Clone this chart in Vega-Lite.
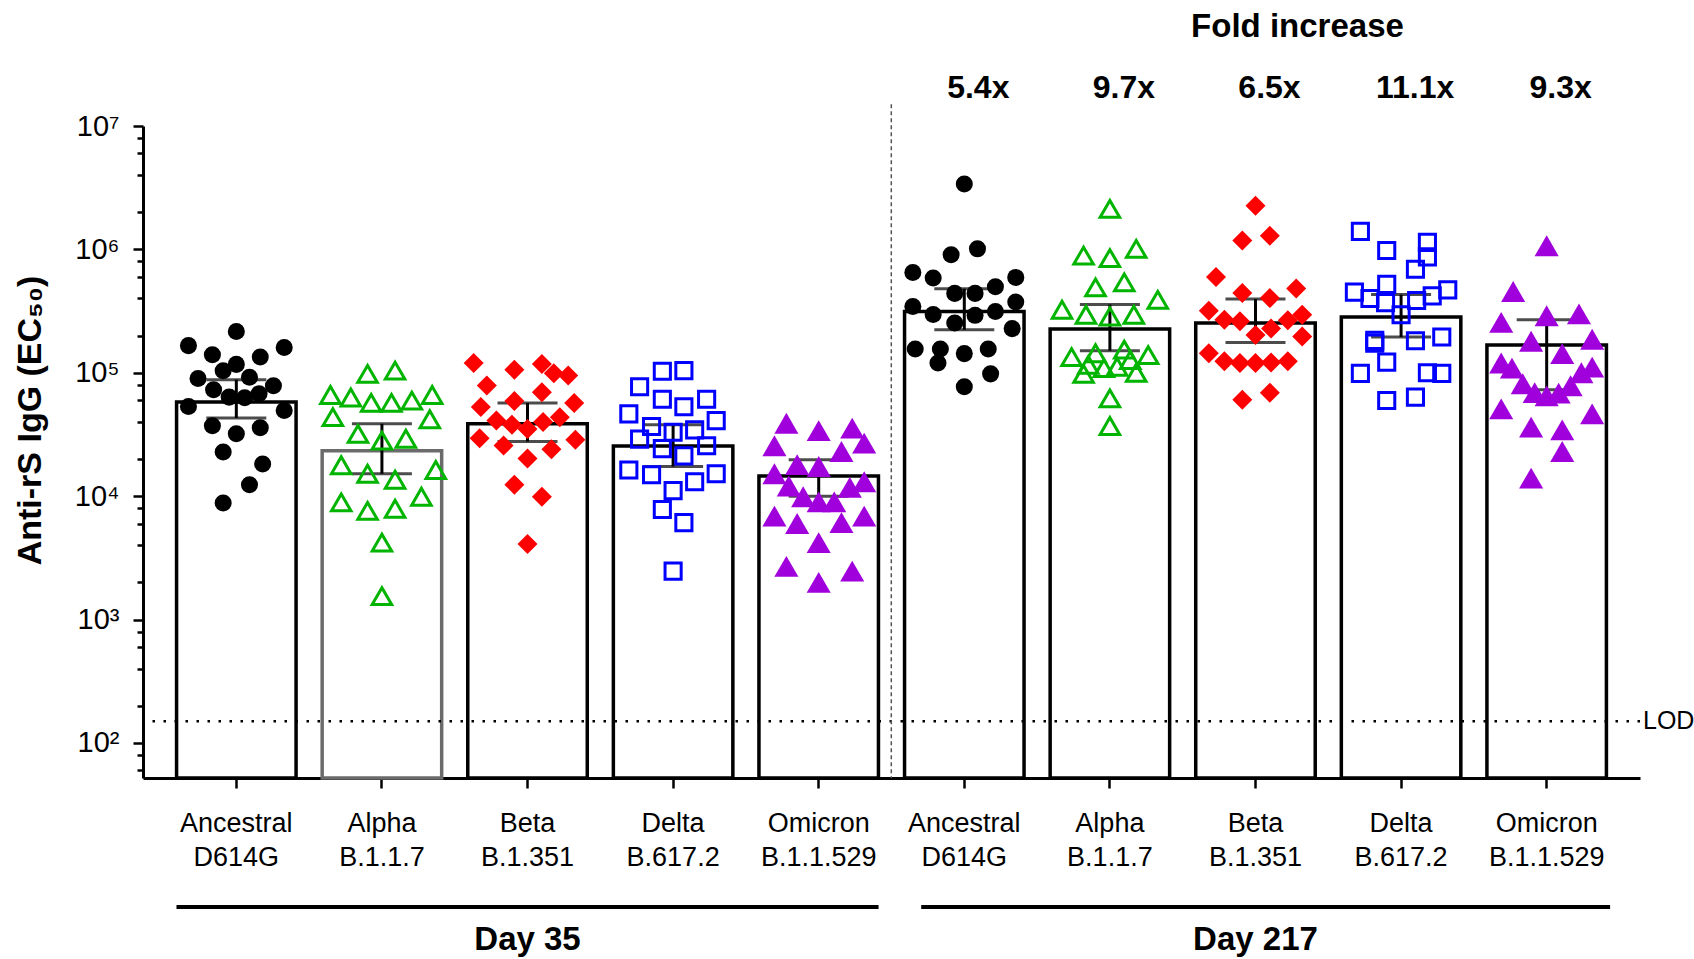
{
  "$schema": "https://vega.github.io/schema/vega-lite/v6.json",
  "width": 1497,
  "height": 652,
  "autosize": {"type": "none"},
  "padding": {"left": 143, "top": 126, "right": 54, "bottom": 181},
  "background": "white",
  "config": {"view": {"stroke": null}, "font": "Liberation Sans"},
  "datasets": {
    "summary": [
      {"grp": "D35 Ancestral D614G", "mean": 58000, "lo": 43000, "hi": 88000},
      {"grp": "D35 Alpha B.1.1.7", "mean": 23300, "lo": 15200, "hi": 38600},
      {"grp": "D35 Beta B.1.351", "mean": 38600, "lo": 27700, "hi": 57000},
      {"grp": "D35 Delta B.617.2", "mean": 25500, "lo": 17400, "hi": 38000},
      {"grp": "D35 Omicron B.1.1.529", "mean": 14600, "lo": 10000, "hi": 19700},
      {"grp": "D217 Ancestral D614G", "mean": 314000, "lo": 223000, "hi": 480000},
      {"grp": "D217 Alpha B.1.1.7", "mean": 226000, "lo": 151000, "hi": 358000},
      {"grp": "D217 Beta B.1.351", "mean": 253000, "lo": 176000, "hi": 396000},
      {"grp": "D217 Delta B.617.2", "mean": 283000, "lo": 195000, "hi": 430000},
      {"grp": "D217 Omicron B.1.1.529", "mean": 168000, "lo": 73000, "hi": 269000}
    ],
    "fold": [
      {"grp": "D217 Ancestral D614G", "fold": "5.4x"},
      {"grp": "D217 Alpha B.1.1.7", "fold": "9.7x"},
      {"grp": "D217 Beta B.1.351", "fold": "6.5x"},
      {"grp": "D217 Delta B.617.2", "fold": "11.1x"},
      {"grp": "D217 Omicron B.1.1.529", "fold": "9.3x"}
    ],
    "heading": [{"grp": "D217 Beta B.1.351", "text": "Fold increase"}],
    "days": [
      {"day": "Day 35", "first": "D35 Ancestral D614G", "last": "D35 Omicron B.1.1.529", "mid": "D35 Beta B.1.351"},
      {"day": "Day 217", "first": "D217 Ancestral D614G", "last": "D217 Omicron B.1.1.529", "mid": "D217 Beta B.1.351"}
    ],
    "lod": [{"lod": 150, "label": "LOD"}],
    "divider": [{"grp": "D217 Ancestral D614G"}],
    "points": [
      {"grp": "D35 Ancestral D614G", "variant": "Ancestral", "titer": 216000, "slot": 0},
      {"grp": "D35 Ancestral D614G", "variant": "Ancestral", "titer": 166000, "slot": -4},
      {"grp": "D35 Ancestral D614G", "variant": "Ancestral", "titer": 160000, "slot": 4},
      {"grp": "D35 Ancestral D614G", "variant": "Ancestral", "titer": 140000, "slot": -2},
      {"grp": "D35 Ancestral D614G", "variant": "Ancestral", "titer": 134000, "slot": 2},
      {"grp": "D35 Ancestral D614G", "variant": "Ancestral", "titer": 117000, "slot": 0},
      {"grp": "D35 Ancestral D614G", "variant": "Ancestral", "titer": 104000, "slot": -1.1},
      {"grp": "D35 Ancestral D614G", "variant": "Ancestral", "titer": 90000, "slot": -3.2},
      {"grp": "D35 Ancestral D614G", "variant": "Ancestral", "titer": 92000, "slot": 1.1},
      {"grp": "D35 Ancestral D614G", "variant": "Ancestral", "titer": 78500, "slot": 3.1},
      {"grp": "D35 Ancestral D614G", "variant": "Ancestral", "titer": 73000, "slot": -1.9},
      {"grp": "D35 Ancestral D614G", "variant": "Ancestral", "titer": 63500, "slot": -0.6},
      {"grp": "D35 Ancestral D614G", "variant": "Ancestral", "titer": 62700, "slot": 0.7},
      {"grp": "D35 Ancestral D614G", "variant": "Ancestral", "titer": 67600, "slot": 1.9},
      {"grp": "D35 Ancestral D614G", "variant": "Ancestral", "titer": 53300, "slot": -4},
      {"grp": "D35 Ancestral D614G", "variant": "Ancestral", "titer": 49500, "slot": 4},
      {"grp": "D35 Ancestral D614G", "variant": "Ancestral", "titer": 37200, "slot": -2},
      {"grp": "D35 Ancestral D614G", "variant": "Ancestral", "titer": 32000, "slot": 0},
      {"grp": "D35 Ancestral D614G", "variant": "Ancestral", "titer": 35800, "slot": 2},
      {"grp": "D35 Ancestral D614G", "variant": "Ancestral", "titer": 22800, "slot": -1.1},
      {"grp": "D35 Ancestral D614G", "variant": "Ancestral", "titer": 18200, "slot": 2.2},
      {"grp": "D35 Ancestral D614G", "variant": "Ancestral", "titer": 12400, "slot": 1.1},
      {"grp": "D35 Ancestral D614G", "variant": "Ancestral", "titer": 8800, "slot": -1.1},

      {"grp": "D35 Alpha B.1.1.7", "variant": "Alpha", "titer": 98000, "slot": -1.2},
      {"grp": "D35 Alpha B.1.1.7", "variant": "Alpha", "titer": 104000, "slot": 1.1},
      {"grp": "D35 Alpha B.1.1.7", "variant": "Alpha", "titer": 66000, "slot": -4.3},
      {"grp": "D35 Alpha B.1.1.7", "variant": "Alpha", "titer": 63000, "slot": -2.6},
      {"grp": "D35 Alpha B.1.1.7", "variant": "Alpha", "titer": 57000, "slot": -0.9},
      {"grp": "D35 Alpha B.1.1.7", "variant": "Alpha", "titer": 57000, "slot": 0.8},
      {"grp": "D35 Alpha B.1.1.7", "variant": "Alpha", "titer": 59500, "slot": 2.5},
      {"grp": "D35 Alpha B.1.1.7", "variant": "Alpha", "titer": 66000, "slot": 4.2},
      {"grp": "D35 Alpha B.1.1.7", "variant": "Alpha", "titer": 43700, "slot": -4.1},
      {"grp": "D35 Alpha B.1.1.7", "variant": "Alpha", "titer": 42000, "slot": 4},
      {"grp": "D35 Alpha B.1.1.7", "variant": "Alpha", "titer": 32000, "slot": -2},
      {"grp": "D35 Alpha B.1.1.7", "variant": "Alpha", "titer": 28200, "slot": 0},
      {"grp": "D35 Alpha B.1.1.7", "variant": "Alpha", "titer": 29200, "slot": 2},
      {"grp": "D35 Alpha B.1.1.7", "variant": "Alpha", "titer": 17800, "slot": -3.4},
      {"grp": "D35 Alpha B.1.1.7", "variant": "Alpha", "titer": 16300, "slot": 4.5},
      {"grp": "D35 Alpha B.1.1.7", "variant": "Alpha", "titer": 15200, "slot": -1.2},
      {"grp": "D35 Alpha B.1.1.7", "variant": "Alpha", "titer": 13600, "slot": 1.1},
      {"grp": "D35 Alpha B.1.1.7", "variant": "Alpha", "titer": 8900, "slot": -3.4},
      {"grp": "D35 Alpha B.1.1.7", "variant": "Alpha", "titer": 7600, "slot": -1.2},
      {"grp": "D35 Alpha B.1.1.7", "variant": "Alpha", "titer": 7900, "slot": 1.1},
      {"grp": "D35 Alpha B.1.1.7", "variant": "Alpha", "titer": 9900, "slot": 3.3},
      {"grp": "D35 Alpha B.1.1.7", "variant": "Alpha", "titer": 4200, "slot": 0},
      {"grp": "D35 Alpha B.1.1.7", "variant": "Alpha", "titer": 1550, "slot": 0},

      {"grp": "D35 Beta B.1.351", "variant": "Beta", "titer": 120000, "slot": -4.5},
      {"grp": "D35 Beta B.1.351", "variant": "Beta", "titer": 106000, "slot": -1.1},
      {"grp": "D35 Beta B.1.351", "variant": "Beta", "titer": 118000, "slot": 1.2},
      {"grp": "D35 Beta B.1.351", "variant": "Beta", "titer": 99000, "slot": 2.2},
      {"grp": "D35 Beta B.1.351", "variant": "Beta", "titer": 95000, "slot": 3.4},
      {"grp": "D35 Beta B.1.351", "variant": "Beta", "titer": 79000, "slot": -3.4},
      {"grp": "D35 Beta B.1.351", "variant": "Beta", "titer": 69700, "slot": 1.2},
      {"grp": "D35 Beta B.1.351", "variant": "Beta", "titer": 59000, "slot": -1.1},
      {"grp": "D35 Beta B.1.351", "variant": "Beta", "titer": 52700, "slot": -3.9},
      {"grp": "D35 Beta B.1.351", "variant": "Beta", "titer": 57000, "slot": 3.9},
      {"grp": "D35 Beta B.1.351", "variant": "Beta", "titer": 41000, "slot": -2.6},
      {"grp": "D35 Beta B.1.351", "variant": "Beta", "titer": 38000, "slot": -1.3},
      {"grp": "D35 Beta B.1.351", "variant": "Beta", "titer": 35000, "slot": 0},
      {"grp": "D35 Beta B.1.351", "variant": "Beta", "titer": 40000, "slot": 1.3},
      {"grp": "D35 Beta B.1.351", "variant": "Beta", "titer": 43700, "slot": 2.7},
      {"grp": "D35 Beta B.1.351", "variant": "Beta", "titer": 29500, "slot": -4},
      {"grp": "D35 Beta B.1.351", "variant": "Beta", "titer": 28600, "slot": 4},
      {"grp": "D35 Beta B.1.351", "variant": "Beta", "titer": 25700, "slot": -2},
      {"grp": "D35 Beta B.1.351", "variant": "Beta", "titer": 24000, "slot": 2},
      {"grp": "D35 Beta B.1.351", "variant": "Beta", "titer": 20200, "slot": 0},
      {"grp": "D35 Beta B.1.351", "variant": "Beta", "titer": 12400, "slot": -1.1},
      {"grp": "D35 Beta B.1.351", "variant": "Beta", "titer": 9900, "slot": 1.2},
      {"grp": "D35 Beta B.1.351", "variant": "Beta", "titer": 4100, "slot": 0},

      {"grp": "D35 Delta B.617.2", "variant": "Delta", "titer": 103000, "slot": -0.9},
      {"grp": "D35 Delta B.617.2", "variant": "Delta", "titer": 104000, "slot": 0.9},
      {"grp": "D35 Delta B.617.2", "variant": "Delta", "titer": 77000, "slot": -2.8},
      {"grp": "D35 Delta B.617.2", "variant": "Delta", "titer": 61000, "slot": -0.9},
      {"grp": "D35 Delta B.617.2", "variant": "Delta", "titer": 53000, "slot": 0.9},
      {"grp": "D35 Delta B.617.2", "variant": "Delta", "titer": 61000, "slot": 2.8},
      {"grp": "D35 Delta B.617.2", "variant": "Delta", "titer": 46500, "slot": -3.7},
      {"grp": "D35 Delta B.617.2", "variant": "Delta", "titer": 41000, "slot": 3.6},
      {"grp": "D35 Delta B.617.2", "variant": "Delta", "titer": 36700, "slot": -1.8},
      {"grp": "D35 Delta B.617.2", "variant": "Delta", "titer": 33000, "slot": 0},
      {"grp": "D35 Delta B.617.2", "variant": "Delta", "titer": 34500, "slot": 1.8},
      {"grp": "D35 Delta B.617.2", "variant": "Delta", "titer": 29000, "slot": -2.8},
      {"grp": "D35 Delta B.617.2", "variant": "Delta", "titer": 24300, "slot": -0.9},
      {"grp": "D35 Delta B.617.2", "variant": "Delta", "titer": 25600, "slot": 2.8},
      {"grp": "D35 Delta B.617.2", "variant": "Delta", "titer": 21200, "slot": 0.9},
      {"grp": "D35 Delta B.617.2", "variant": "Delta", "titer": 16300, "slot": -3.7},
      {"grp": "D35 Delta B.617.2", "variant": "Delta", "titer": 14900, "slot": -1.8},
      {"grp": "D35 Delta B.617.2", "variant": "Delta", "titer": 15200, "slot": 3.6},
      {"grp": "D35 Delta B.617.2", "variant": "Delta", "titer": 13100, "slot": 1.8},
      {"grp": "D35 Delta B.617.2", "variant": "Delta", "titer": 11100, "slot": 0},
      {"grp": "D35 Delta B.617.2", "variant": "Delta", "titer": 7800, "slot": -0.9},
      {"grp": "D35 Delta B.617.2", "variant": "Delta", "titer": 6100, "slot": 0.9},
      {"grp": "D35 Delta B.617.2", "variant": "Delta", "titer": 2470, "slot": 0},

      {"grp": "D35 Omicron B.1.1.529", "variant": "Omicron", "titer": 39000, "slot": -2.7},
      {"grp": "D35 Omicron B.1.1.529", "variant": "Omicron", "titer": 34000, "slot": 0},
      {"grp": "D35 Omicron B.1.1.529", "variant": "Omicron", "titer": 35600, "slot": 2.8},
      {"grp": "D35 Omicron B.1.1.529", "variant": "Omicron", "titer": 25600, "slot": -3.7},
      {"grp": "D35 Omicron B.1.1.529", "variant": "Omicron", "titer": 26900, "slot": 3.8},
      {"grp": "D35 Omicron B.1.1.529", "variant": "Omicron", "titer": 23000, "slot": 1.9},
      {"grp": "D35 Omicron B.1.1.529", "variant": "Omicron", "titer": 18000, "slot": -1.8},
      {"grp": "D35 Omicron B.1.1.529", "variant": "Omicron", "titer": 17400, "slot": 0},
      {"grp": "D35 Omicron B.1.1.529", "variant": "Omicron", "titer": 15200, "slot": -3.7},
      {"grp": "D35 Omicron B.1.1.529", "variant": "Omicron", "titer": 12100, "slot": -2.5},
      {"grp": "D35 Omicron B.1.1.529", "variant": "Omicron", "titer": 11800, "slot": 2.6},
      {"grp": "D35 Omicron B.1.1.529", "variant": "Omicron", "titer": 13100, "slot": 3.8},
      {"grp": "D35 Omicron B.1.1.529", "variant": "Omicron", "titer": 9900, "slot": -1.3},
      {"grp": "D35 Omicron B.1.1.529", "variant": "Omicron", "titer": 9000, "slot": 0},
      {"grp": "D35 Omicron B.1.1.529", "variant": "Omicron", "titer": 9000, "slot": 1.3},
      {"grp": "D35 Omicron B.1.1.529", "variant": "Omicron", "titer": 6900, "slot": -3.7},
      {"grp": "D35 Omicron B.1.1.529", "variant": "Omicron", "titer": 6000, "slot": -1.8},
      {"grp": "D35 Omicron B.1.1.529", "variant": "Omicron", "titer": 6100, "slot": 1.9},
      {"grp": "D35 Omicron B.1.1.529", "variant": "Omicron", "titer": 6900, "slot": 3.8},
      {"grp": "D35 Omicron B.1.1.529", "variant": "Omicron", "titer": 4200, "slot": 0},
      {"grp": "D35 Omicron B.1.1.529", "variant": "Omicron", "titer": 2700, "slot": -2.7},
      {"grp": "D35 Omicron B.1.1.529", "variant": "Omicron", "titer": 2470, "slot": 2.8},
      {"grp": "D35 Omicron B.1.1.529", "variant": "Omicron", "titer": 2000, "slot": 0},

      {"grp": "D217 Ancestral D614G", "variant": "Ancestral", "titer": 3390000, "slot": 0},
      {"grp": "D217 Ancestral D614G", "variant": "Ancestral", "titer": 906000, "slot": -1.1},
      {"grp": "D217 Ancestral D614G", "variant": "Ancestral", "titer": 1010000, "slot": 1.1},
      {"grp": "D217 Ancestral D614G", "variant": "Ancestral", "titer": 650000, "slot": -4.3},
      {"grp": "D217 Ancestral D614G", "variant": "Ancestral", "titer": 586000, "slot": -2.6},
      {"grp": "D217 Ancestral D614G", "variant": "Ancestral", "titer": 593000, "slot": 4.3},
      {"grp": "D217 Ancestral D614G", "variant": "Ancestral", "titer": 498000, "slot": 2.6},
      {"grp": "D217 Ancestral D614G", "variant": "Ancestral", "titer": 440000, "slot": -0.8},
      {"grp": "D217 Ancestral D614G", "variant": "Ancestral", "titer": 440000, "slot": 0.9},
      {"grp": "D217 Ancestral D614G", "variant": "Ancestral", "titer": 345000, "slot": -4.3},
      {"grp": "D217 Ancestral D614G", "variant": "Ancestral", "titer": 374000, "slot": 4.3},
      {"grp": "D217 Ancestral D614G", "variant": "Ancestral", "titer": 297000, "slot": -2.6},
      {"grp": "D217 Ancestral D614G", "variant": "Ancestral", "titer": 292000, "slot": 0.9},
      {"grp": "D217 Ancestral D614G", "variant": "Ancestral", "titer": 314000, "slot": 2.6},
      {"grp": "D217 Ancestral D614G", "variant": "Ancestral", "titer": 253000, "slot": -0.8},
      {"grp": "D217 Ancestral D614G", "variant": "Ancestral", "titer": 228000, "slot": 4},
      {"grp": "D217 Ancestral D614G", "variant": "Ancestral", "titer": 156000, "slot": -4.1},
      {"grp": "D217 Ancestral D614G", "variant": "Ancestral", "titer": 156000, "slot": -2},
      {"grp": "D217 Ancestral D614G", "variant": "Ancestral", "titer": 143000, "slot": 0},
      {"grp": "D217 Ancestral D614G", "variant": "Ancestral", "titer": 156000, "slot": 2},
      {"grp": "D217 Ancestral D614G", "variant": "Ancestral", "titer": 120000, "slot": -2.2},
      {"grp": "D217 Ancestral D614G", "variant": "Ancestral", "titer": 98000, "slot": 2.2},
      {"grp": "D217 Ancestral D614G", "variant": "Ancestral", "titer": 77000, "slot": 0},

      {"grp": "D217 Alpha B.1.1.7", "variant": "Alpha", "titer": 2130000, "slot": 0},
      {"grp": "D217 Alpha B.1.1.7", "variant": "Alpha", "titer": 890000, "slot": -2.2},
      {"grp": "D217 Alpha B.1.1.7", "variant": "Alpha", "titer": 850000, "slot": 0},
      {"grp": "D217 Alpha B.1.1.7", "variant": "Alpha", "titer": 1010000, "slot": 2.2},
      {"grp": "D217 Alpha B.1.1.7", "variant": "Alpha", "titer": 492000, "slot": -1.2},
      {"grp": "D217 Alpha B.1.1.7", "variant": "Alpha", "titer": 540000, "slot": 1.2},
      {"grp": "D217 Alpha B.1.1.7", "variant": "Alpha", "titer": 324000, "slot": -4},
      {"grp": "D217 Alpha B.1.1.7", "variant": "Alpha", "titer": 390000, "slot": 4},
      {"grp": "D217 Alpha B.1.1.7", "variant": "Alpha", "titer": 295000, "slot": -2},
      {"grp": "D217 Alpha B.1.1.7", "variant": "Alpha", "titer": 286000, "slot": 0},
      {"grp": "D217 Alpha B.1.1.7", "variant": "Alpha", "titer": 295000, "slot": 2},
      {"grp": "D217 Alpha B.1.1.7", "variant": "Alpha", "titer": 134000, "slot": -3.2},
      {"grp": "D217 Alpha B.1.1.7", "variant": "Alpha", "titer": 144000, "slot": -1.2},
      {"grp": "D217 Alpha B.1.1.7", "variant": "Alpha", "titer": 154000, "slot": 1.2},
      {"grp": "D217 Alpha B.1.1.7", "variant": "Alpha", "titer": 139000, "slot": 3.2},
      {"grp": "D217 Alpha B.1.1.7", "variant": "Alpha", "titer": 116000, "slot": -1.8},
      {"grp": "D217 Alpha B.1.1.7", "variant": "Alpha", "titer": 109000, "slot": -0.5},
      {"grp": "D217 Alpha B.1.1.7", "variant": "Alpha", "titer": 112000, "slot": 0.6},
      {"grp": "D217 Alpha B.1.1.7", "variant": "Alpha", "titer": 127000, "slot": 1.7},
      {"grp": "D217 Alpha B.1.1.7", "variant": "Alpha", "titer": 98000, "slot": -2.2},
      {"grp": "D217 Alpha B.1.1.7", "variant": "Alpha", "titer": 100000, "slot": 2.2},
      {"grp": "D217 Alpha B.1.1.7", "variant": "Alpha", "titer": 62000, "slot": 0},
      {"grp": "D217 Alpha B.1.1.7", "variant": "Alpha", "titer": 37000, "slot": 0},

      {"grp": "D217 Beta B.1.351", "variant": "Beta", "titer": 2260000, "slot": 0},
      {"grp": "D217 Beta B.1.351", "variant": "Beta", "titer": 1180000, "slot": -1.1},
      {"grp": "D217 Beta B.1.351", "variant": "Beta", "titer": 1290000, "slot": 1.2},
      {"grp": "D217 Beta B.1.351", "variant": "Beta", "titer": 597000, "slot": -3.3},
      {"grp": "D217 Beta B.1.351", "variant": "Beta", "titer": 443000, "slot": -1.1},
      {"grp": "D217 Beta B.1.351", "variant": "Beta", "titer": 403000, "slot": 1.2},
      {"grp": "D217 Beta B.1.351", "variant": "Beta", "titer": 483000, "slot": 3.4},
      {"grp": "D217 Beta B.1.351", "variant": "Beta", "titer": 318000, "slot": -3.9},
      {"grp": "D217 Beta B.1.351", "variant": "Beta", "titer": 295000, "slot": 3.9},
      {"grp": "D217 Beta B.1.351", "variant": "Beta", "titer": 269000, "slot": -2.6},
      {"grp": "D217 Beta B.1.351", "variant": "Beta", "titer": 261000, "slot": -1.3},
      {"grp": "D217 Beta B.1.351", "variant": "Beta", "titer": 228000, "slot": 1.3},
      {"grp": "D217 Beta B.1.351", "variant": "Beta", "titer": 266000, "slot": 2.7},
      {"grp": "D217 Beta B.1.351", "variant": "Beta", "titer": 202000, "slot": 0},
      {"grp": "D217 Beta B.1.351", "variant": "Beta", "titer": 197000, "slot": 3.9},
      {"grp": "D217 Beta B.1.351", "variant": "Beta", "titer": 144000, "slot": -3.9},
      {"grp": "D217 Beta B.1.351", "variant": "Beta", "titer": 124000, "slot": -2.6},
      {"grp": "D217 Beta B.1.351", "variant": "Beta", "titer": 120000, "slot": -1.3},
      {"grp": "D217 Beta B.1.351", "variant": "Beta", "titer": 120000, "slot": 0},
      {"grp": "D217 Beta B.1.351", "variant": "Beta", "titer": 121000, "slot": 1.3},
      {"grp": "D217 Beta B.1.351", "variant": "Beta", "titer": 124000, "slot": 2.7},
      {"grp": "D217 Beta B.1.351", "variant": "Beta", "titer": 60400, "slot": -1.1},
      {"grp": "D217 Beta B.1.351", "variant": "Beta", "titer": 69000, "slot": 1.2},

      {"grp": "D217 Delta B.617.2", "variant": "Delta", "titer": 1400000, "slot": -3.4},
      {"grp": "D217 Delta B.617.2", "variant": "Delta", "titer": 980000, "slot": -1.2},
      {"grp": "D217 Delta B.617.2", "variant": "Delta", "titer": 1140000, "slot": 2.2},
      {"grp": "D217 Delta B.617.2", "variant": "Delta", "titer": 870000, "slot": 2.2},
      {"grp": "D217 Delta B.617.2", "variant": "Delta", "titer": 690000, "slot": 1.2},
      {"grp": "D217 Delta B.617.2", "variant": "Delta", "titer": 520000, "slot": -1.2},
      {"grp": "D217 Delta B.617.2", "variant": "Delta", "titer": 450000, "slot": -3.9},
      {"grp": "D217 Delta B.617.2", "variant": "Delta", "titer": 470000, "slot": 3.9},
      {"grp": "D217 Delta B.617.2", "variant": "Delta", "titer": 400000, "slot": -2.6},
      {"grp": "D217 Delta B.617.2", "variant": "Delta", "titer": 420000, "slot": 2.6},
      {"grp": "D217 Delta B.617.2", "variant": "Delta", "titer": 370000, "slot": -1.3},
      {"grp": "D217 Delta B.617.2", "variant": "Delta", "titer": 385000, "slot": 1.3},
      {"grp": "D217 Delta B.617.2", "variant": "Delta", "titer": 295000, "slot": 0},
      {"grp": "D217 Delta B.617.2", "variant": "Delta", "titer": 183000, "slot": -2.2},
      {"grp": "D217 Delta B.617.2", "variant": "Delta", "titer": 174000, "slot": -2.2},
      {"grp": "D217 Delta B.617.2", "variant": "Delta", "titer": 182000, "slot": 1.2},
      {"grp": "D217 Delta B.617.2", "variant": "Delta", "titer": 195000, "slot": 3.4},
      {"grp": "D217 Delta B.617.2", "variant": "Delta", "titer": 122000, "slot": -1.2},
      {"grp": "D217 Delta B.617.2", "variant": "Delta", "titer": 99000, "slot": -3.4},
      {"grp": "D217 Delta B.617.2", "variant": "Delta", "titer": 100000, "slot": 2.2},
      {"grp": "D217 Delta B.617.2", "variant": "Delta", "titer": 99000, "slot": 3.4},
      {"grp": "D217 Delta B.617.2", "variant": "Delta", "titer": 59600, "slot": -1.2},
      {"grp": "D217 Delta B.617.2", "variant": "Delta", "titer": 63500, "slot": 1.2},

      {"grp": "D217 Omicron B.1.1.529", "variant": "Omicron", "titer": 1070000, "slot": 0},
      {"grp": "D217 Omicron B.1.1.529", "variant": "Omicron", "titer": 456000, "slot": -2.8},
      {"grp": "D217 Omicron B.1.1.529", "variant": "Omicron", "titer": 256000, "slot": -3.8},
      {"grp": "D217 Omicron B.1.1.529", "variant": "Omicron", "titer": 290000, "slot": 0},
      {"grp": "D217 Omicron B.1.1.529", "variant": "Omicron", "titer": 300000, "slot": 2.7},
      {"grp": "D217 Omicron B.1.1.529", "variant": "Omicron", "titer": 180000, "slot": -1.3},
      {"grp": "D217 Omicron B.1.1.529", "variant": "Omicron", "titer": 187000, "slot": 3.8},
      {"grp": "D217 Omicron B.1.1.529", "variant": "Omicron", "titer": 143000, "slot": 1.3},
      {"grp": "D217 Omicron B.1.1.529", "variant": "Omicron", "titer": 120000, "slot": -3.8},
      {"grp": "D217 Omicron B.1.1.529", "variant": "Omicron", "titer": 109000, "slot": -2.9},
      {"grp": "D217 Omicron B.1.1.529", "variant": "Omicron", "titer": 100000, "slot": 2.9},
      {"grp": "D217 Omicron B.1.1.529", "variant": "Omicron", "titer": 111000, "slot": 3.8},
      {"grp": "D217 Omicron B.1.1.529", "variant": "Omicron", "titer": 81500, "slot": -2},
      {"grp": "D217 Omicron B.1.1.529", "variant": "Omicron", "titer": 78500, "slot": 2},
      {"grp": "D217 Omicron B.1.1.529", "variant": "Omicron", "titer": 69000, "slot": -1},
      {"grp": "D217 Omicron B.1.1.529", "variant": "Omicron", "titer": 65000, "slot": 0},
      {"grp": "D217 Omicron B.1.1.529", "variant": "Omicron", "titer": 68400, "slot": 1},
      {"grp": "D217 Omicron B.1.1.529", "variant": "Omicron", "titer": 51000, "slot": -3.8},
      {"grp": "D217 Omicron B.1.1.529", "variant": "Omicron", "titer": 46500, "slot": 3.8},
      {"grp": "D217 Omicron B.1.1.529", "variant": "Omicron", "titer": 36300, "slot": -1.3},
      {"grp": "D217 Omicron B.1.1.529", "variant": "Omicron", "titer": 34500, "slot": 1.3},
      {"grp": "D217 Omicron B.1.1.529", "variant": "Omicron", "titer": 23000, "slot": 1.3},
      {"grp": "D217 Omicron B.1.1.529", "variant": "Omicron", "titer": 14000, "slot": -1.3}
    ]
  },
  "layer": [
    {
      "data": {"name": "summary"},
      "mark": {"type": "bar", "fill": "white", "strokeWidth": 3.5, "width": 119.5},
      "encoding": {
        "x": {
          "field": "grp", "type": "nominal",
          "scale": {
            "domain": ["D35 Ancestral D614G", "D35 Alpha B.1.1.7", "D35 Beta B.1.351", "D35 Delta B.617.2", "D35 Omicron B.1.1.529",
                       "D217 Ancestral D614G", "D217 Alpha B.1.1.7", "D217 Beta B.1.351", "D217 Delta B.617.2", "D217 Omicron B.1.1.529"],
            "paddingInner": 0.178, "paddingOuter": 0.23
          },
          "axis": {
            "title": null, "labelAngle": 0,
            "labelExpr": "slice(split(datum.label, ' '), 1)",
            "labelFont": "Liberation Sans", "labelFontSize": 27, "labelColor": "black",
            "labelLineHeight": 34, "labelPadding": 22, "labelBaseline": "top",
            "domainColor": "black", "domainWidth": 3,
            "tickColor": "black", "tickWidth": 2.5, "tickSize": 10,
            "grid": false
          }
        },
        "y": {
          "field": "mean", "type": "quantitative",
          "scale": {"type": "log", "domain": [52, 10000000], "nice": false},
          "axis": {
            "title": "Anti-rS IgG (EC₅₀)",
            "titleFont": "Liberation Sans", "titleFontSize": 34, "titleFontWeight": "bold", "titleColor": "black",
            "titleX": -113, "titleY": 294, "titleAngle": -90, "titleAlign": "center", "titleBaseline": "middle",
            "values": [60, 80, 100, 200, 400, 600, 800, 1000, 2000, 4000, 6000, 8000, 10000, 20000, 40000, 60000, 80000,
                       100000, 200000, 400000, 600000, 800000, 1000000, 2000000, 4000000, 6000000, 8000000, 10000000],
            "labelExpr": "indexof([100,1000,10000,100000,1000000,10000000], datum.value) >= 0 ? '10' + ['⁰','¹','²','³','⁴','⁵','⁶','⁷'][round(log(datum.value)/LN10)] : ''",
            "labelFont": "Liberation Sans", "labelFontSize": 29, "labelColor": "black", "labelPadding": 14,
            "labelBaseline": "middle",
            "domainColor": "black", "domainWidth": 3,
            "tickColor": "black", "tickWidth": 2.5,
            "tickSize": {"condition": {"test": "indexof([100,1000,10000,100000,1000000,10000000], datum.value) >= 0", "value": 10}, "value": 6},
            "grid": false
          }
        },
        "y2": {"datum": 52},
        "stroke": {
          "condition": {"test": "datum.grp == 'D35 Alpha B.1.1.7'", "value": "#6b6b6b"},
          "value": "black"
        }
      }
    },
    {
      "data": {"name": "lod"},
      "mark": {"type": "rule", "color": "black", "strokeWidth": 2.5, "strokeDash": [2.5, 8.5]},
      "encoding": {"y": {"field": "lod", "type": "quantitative", "scale": {"type": "log", "domain": [52, 10000000], "nice": false}}}
    },
    {
      "data": {"name": "lod"},
      "mark": {"type": "text", "align": "left", "baseline": "middle", "dx": 3, "font": "Liberation Sans", "fontSize": 25, "color": "black"},
      "encoding": {"y": {"field": "lod", "type": "quantitative", "scale": {"type": "log", "domain": [52, 10000000], "nice": false}}, "x": {"value": "width"}, "text": {"field": "label"}}
    },
    {
      "data": {"name": "divider"},
      "mark": {"type": "rule", "color": "#555555", "strokeWidth": 1.5, "strokeDash": [4, 3]},
      "encoding": {
        "x": {"field": "grp", "type": "nominal", "bandPosition": -0.11},
        "y": {"datum": 15000000, "scale": {"type": "log", "domain": [52, 10000000], "nice": false}},
        "y2": {"datum": 52}
      }
    },
    {
      "data": {"name": "summary"},
      "mark": {"type": "rule", "color": "black", "strokeWidth": 3},
      "encoding": {
        "x": {"field": "grp", "type": "nominal"},
        "y": {"field": "lo", "type": "quantitative", "scale": {"type": "log", "domain": [52, 10000000], "nice": false}},
        "y2": {"field": "hi"}
      }
    },
    {
      "data": {"name": "summary"},
      "mark": {"type": "tick", "color": "black", "thickness": 3, "size": 60, "orient": "horizontal"},
      "encoding": {
        "x": {"field": "grp", "type": "nominal"},
        "y": {"field": "lo", "type": "quantitative", "scale": {"type": "log", "domain": [52, 10000000], "nice": false}}
      }
    },
    {
      "data": {"name": "summary"},
      "mark": {"type": "tick", "color": "black", "thickness": 3, "size": 60, "orient": "horizontal"},
      "encoding": {
        "x": {"field": "grp", "type": "nominal"},
        "y": {"field": "hi", "type": "quantitative", "scale": {"type": "log", "domain": [52, 10000000], "nice": false}}
      }
    },
    {
      "data": {"name": "points"},
      "transform": [{"filter": "datum.variant == 'Ancestral'"}],
      "mark": {"type": "point", "shape": "circle", "filled": true, "color": "#000000", "opacity": 1, "strokeWidth": 0, "size": 290},
      "encoding": {
        "x": {"field": "grp", "type": "nominal"},
        "xOffset": {"field": "slot", "type": "quantitative", "scale": {"domain": [-5, 5]}},
        "y": {"field": "titer", "type": "quantitative", "scale": {"type": "log", "domain": [52, 10000000], "nice": false}}
      }
    },
    {
      "data": {"name": "points"},
      "transform": [{"filter": "datum.variant == 'Alpha'"}],
      "mark": {"type": "point", "shape": "triangle-up", "filled": false, "color": "#00B400", "opacity": 1, "strokeWidth": 3, "size": 380},
      "encoding": {
        "x": {"field": "grp", "type": "nominal"},
        "xOffset": {"field": "slot", "type": "quantitative", "scale": {"domain": [-5, 5]}},
        "y": {"field": "titer", "type": "quantitative", "scale": {"type": "log", "domain": [52, 10000000], "nice": false}}
      }
    },
    {
      "data": {"name": "points"},
      "transform": [{"filter": "datum.variant == 'Beta'"}],
      "mark": {"type": "point", "shape": "diamond", "filled": true, "color": "#FF0000", "opacity": 1, "strokeWidth": 0, "size": 400},
      "encoding": {
        "x": {"field": "grp", "type": "nominal"},
        "xOffset": {"field": "slot", "type": "quantitative", "scale": {"domain": [-5, 5]}},
        "y": {"field": "titer", "type": "quantitative", "scale": {"type": "log", "domain": [52, 10000000], "nice": false}}
      }
    },
    {
      "data": {"name": "points"},
      "transform": [{"filter": "datum.variant == 'Delta'"}],
      "mark": {"type": "point", "shape": "square", "filled": false, "color": "#0000FF", "opacity": 1, "strokeWidth": 3, "size": 260},
      "encoding": {
        "x": {"field": "grp", "type": "nominal"},
        "xOffset": {"field": "slot", "type": "quantitative", "scale": {"domain": [-5, 5]}},
        "y": {"field": "titer", "type": "quantitative", "scale": {"type": "log", "domain": [52, 10000000], "nice": false}}
      }
    },
    {
      "data": {"name": "points"},
      "transform": [{"filter": "datum.variant == 'Omicron'"}],
      "mark": {"type": "point", "shape": "triangle-up", "filled": true, "color": "#A000DC", "opacity": 1, "strokeWidth": 0, "size": 580},
      "encoding": {
        "x": {"field": "grp", "type": "nominal"},
        "xOffset": {"field": "slot", "type": "quantitative", "scale": {"domain": [-5, 5]}},
        "y": {"field": "titer", "type": "quantitative", "scale": {"type": "log", "domain": [52, 10000000], "nice": false}}
      }
    },
    {
      "data": {"name": "fold"},
      "mark": {"type": "text", "font": "Liberation Sans", "fontWeight": "bold", "fontSize": 32, "color": "black", "baseline": "middle", "dx": 14},
      "encoding": {
        "x": {"field": "grp", "type": "nominal"},
        "y": {"datum": 20300000, "scale": {"type": "log", "domain": [52, 10000000], "nice": false}},
        "text": {"field": "fold"}
      }
    },
    {
      "data": {"name": "heading"},
      "mark": {"type": "text", "font": "Liberation Sans", "fontWeight": "bold", "fontSize": 33, "color": "black", "baseline": "middle", "dx": 42},
      "encoding": {
        "x": {"field": "grp", "type": "nominal"},
        "y": {"datum": 63400000, "scale": {"type": "log", "domain": [52, 10000000], "nice": false}},
        "text": {"field": "text"}
      }
    },
    {
      "data": {"name": "days"},
      "transform": [{"filter": "datum.day == 'Day 35'"}],
      "mark": {"type": "rule", "color": "black", "strokeWidth": 4},
      "encoding": {
        "x": {"field": "first", "type": "nominal", "bandPosition": 0},
        "x2": {"field": "last", "bandPosition": 1},
        "y": {"datum": 4.69, "scale": {"type": "log", "domain": [52, 10000000], "nice": false}}
      }
    },
    {
      "data": {"name": "days"},
      "transform": [{"filter": "datum.day == 'Day 217'"}],
      "mark": {"type": "rule", "color": "black", "strokeWidth": 4},
      "encoding": {
        "x": {"field": "first", "type": "nominal", "bandPosition": 0.14},
        "x2": {"field": "last", "bandPosition": 1.03},
        "y": {"datum": 4.69, "scale": {"type": "log", "domain": [52, 10000000], "nice": false}}
      }
    },
    {
      "data": {"name": "days"},
      "mark": {"type": "text", "font": "Liberation Sans", "fontWeight": "bold", "fontSize": 33, "color": "black", "baseline": "middle"},
      "encoding": {
        "x": {"field": "mid", "type": "nominal"},
        "y": {"datum": 2.53, "scale": {"type": "log", "domain": [52, 10000000], "nice": false}},
        "text": {"field": "day"}
      }
    }
  ]
}
